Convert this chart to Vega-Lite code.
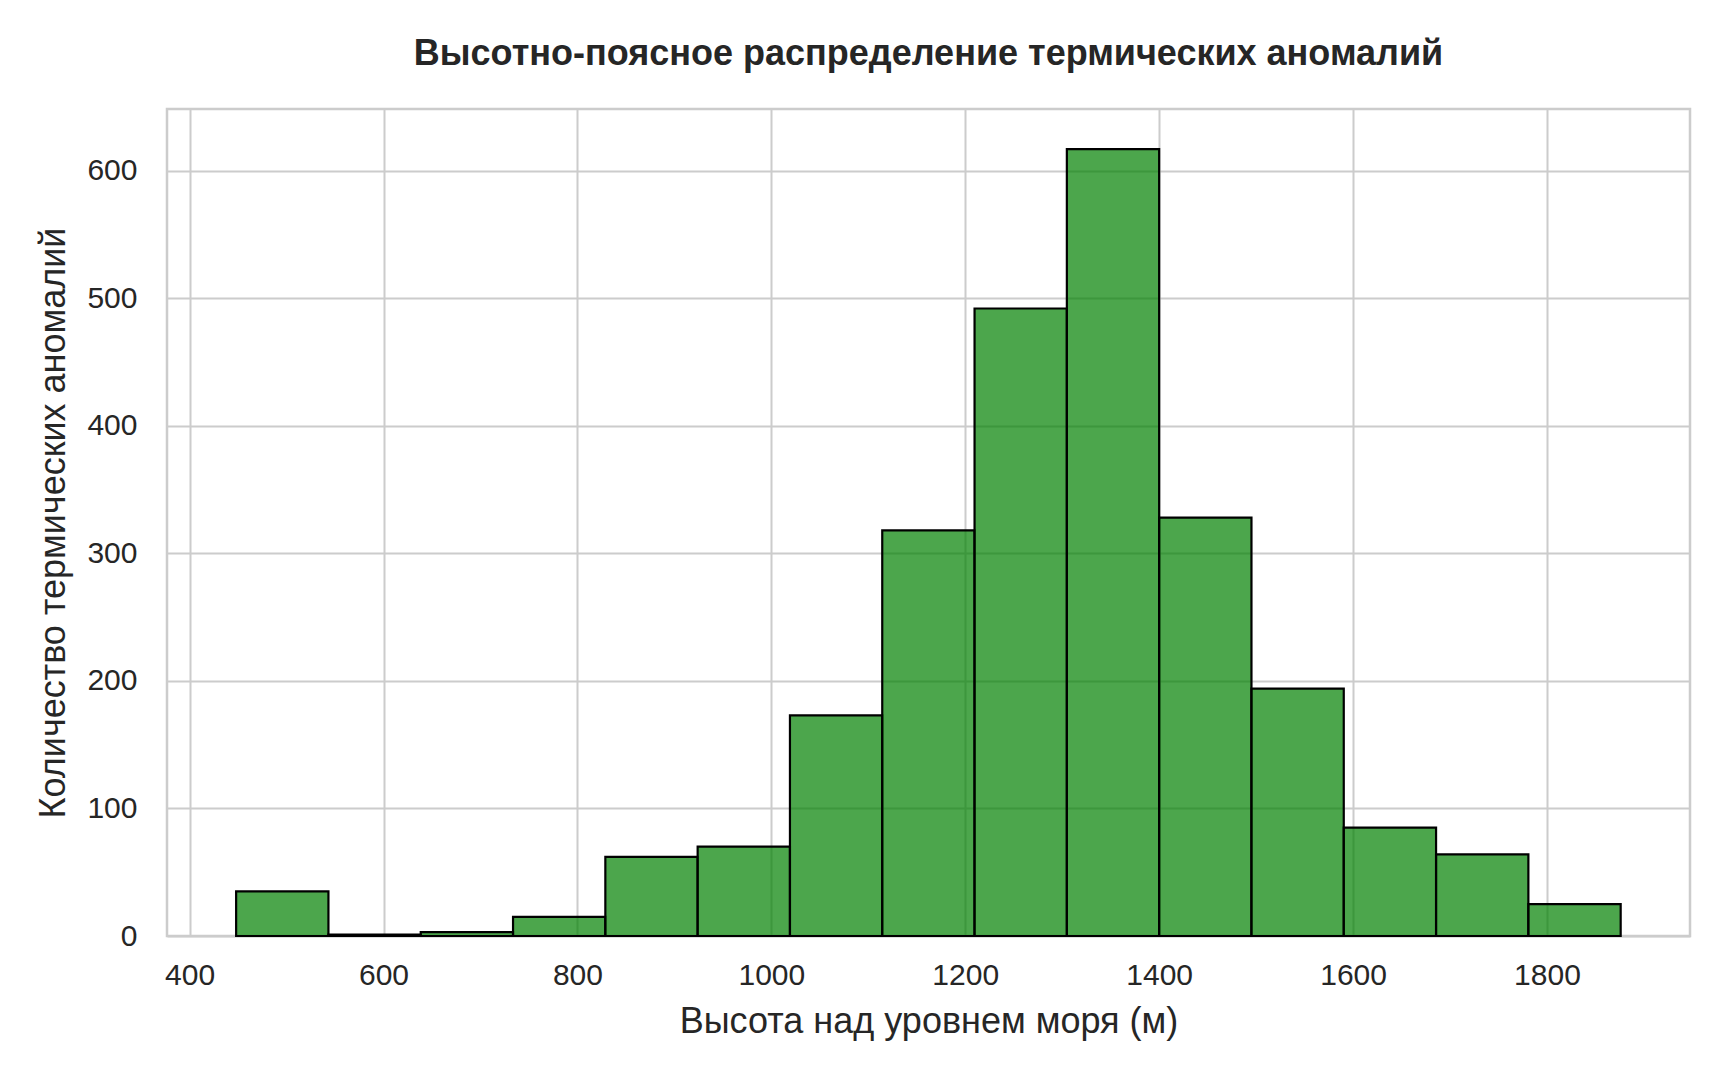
{
  "$schema": "https://vega.github.io/schema/vega-lite/v6.json",
  "width": 1523,
  "height": 827,
  "autosize": "none",
  "padding": {"left": 167, "top": 109, "right": 38, "bottom": 144},
  "background": "white",
  "title": {
    "text": "Высотно-поясное распределение термических аномалий",
    "font": "Liberation Sans",
    "fontSize": 36,
    "fontWeight": "bold",
    "color": "#262626",
    "anchor": "middle",
    "baseline": "alphabetical",
    "offset": 8
  },
  "config": {
    "view": {"stroke": "#cccccc", "strokeWidth": 2.5},
    "axis": {
      "domain": false,
      "ticks": false,
      "tickSize": 0,
      "grid": true,
      "gridColor": "#cccccc",
      "gridWidth": 2,
      "labelFont": "Liberation Sans",
      "labelFontSize": 30,
      "labelColor": "#262626",
      "titleFont": "Liberation Sans",
      "titleFontSize": 36,
      "titleFontWeight": "normal",
      "titleColor": "#262626"
    }
  },
  "data": {
    "values": [
      {"bin_start": 448.0, "bin_end": 543.2, "count": 35},
      {"bin_start": 543.2, "bin_end": 638.4, "count": 1},
      {"bin_start": 638.4, "bin_end": 733.6, "count": 3},
      {"bin_start": 733.6, "bin_end": 828.8, "count": 15},
      {"bin_start": 828.8, "bin_end": 924.0, "count": 62},
      {"bin_start": 924.0, "bin_end": 1019.2, "count": 70},
      {"bin_start": 1019.2, "bin_end": 1114.4, "count": 173},
      {"bin_start": 1114.4, "bin_end": 1209.6, "count": 318},
      {"bin_start": 1209.6, "bin_end": 1304.8, "count": 492},
      {"bin_start": 1304.8, "bin_end": 1400.0, "count": 617},
      {"bin_start": 1400.0, "bin_end": 1495.2, "count": 328},
      {"bin_start": 1495.2, "bin_end": 1590.4, "count": 194},
      {"bin_start": 1590.4, "bin_end": 1685.6, "count": 85},
      {"bin_start": 1685.6, "bin_end": 1780.8, "count": 64},
      {"bin_start": 1780.8, "bin_end": 1876.0, "count": 25}
    ]
  },
  "mark": {
    "type": "bar",
    "fill": "#008000",
    "fillOpacity": 0.7,
    "stroke": "#000000",
    "strokeWidth": 2.2
  },
  "encoding": {
    "x": {
      "field": "bin_start",
      "type": "quantitative",
      "scale": {"domain": [376.7, 1947.5], "nice": false, "zero": false},
      "axis": {
        "values": [400, 600, 800, 1000, 1200, 1400, 1600, 1800],
        "format": "d",
        "labelPadding": 24,
        "titlePadding": 14,
        "title": "Высота над уровнем моря (м)"
      }
    },
    "x2": {"field": "bin_end"},
    "y": {
      "field": "count",
      "type": "quantitative",
      "scale": {"domain": [0, 648.4], "nice": false},
      "axis": {
        "values": [0, 100, 200, 300, 400, 500, 600],
        "labelPadding": 30,
        "titlePadding": 14,
        "title": "Количество термических аномалий"
      }
    },
    "y2": {"datum": 0}
  }
}
